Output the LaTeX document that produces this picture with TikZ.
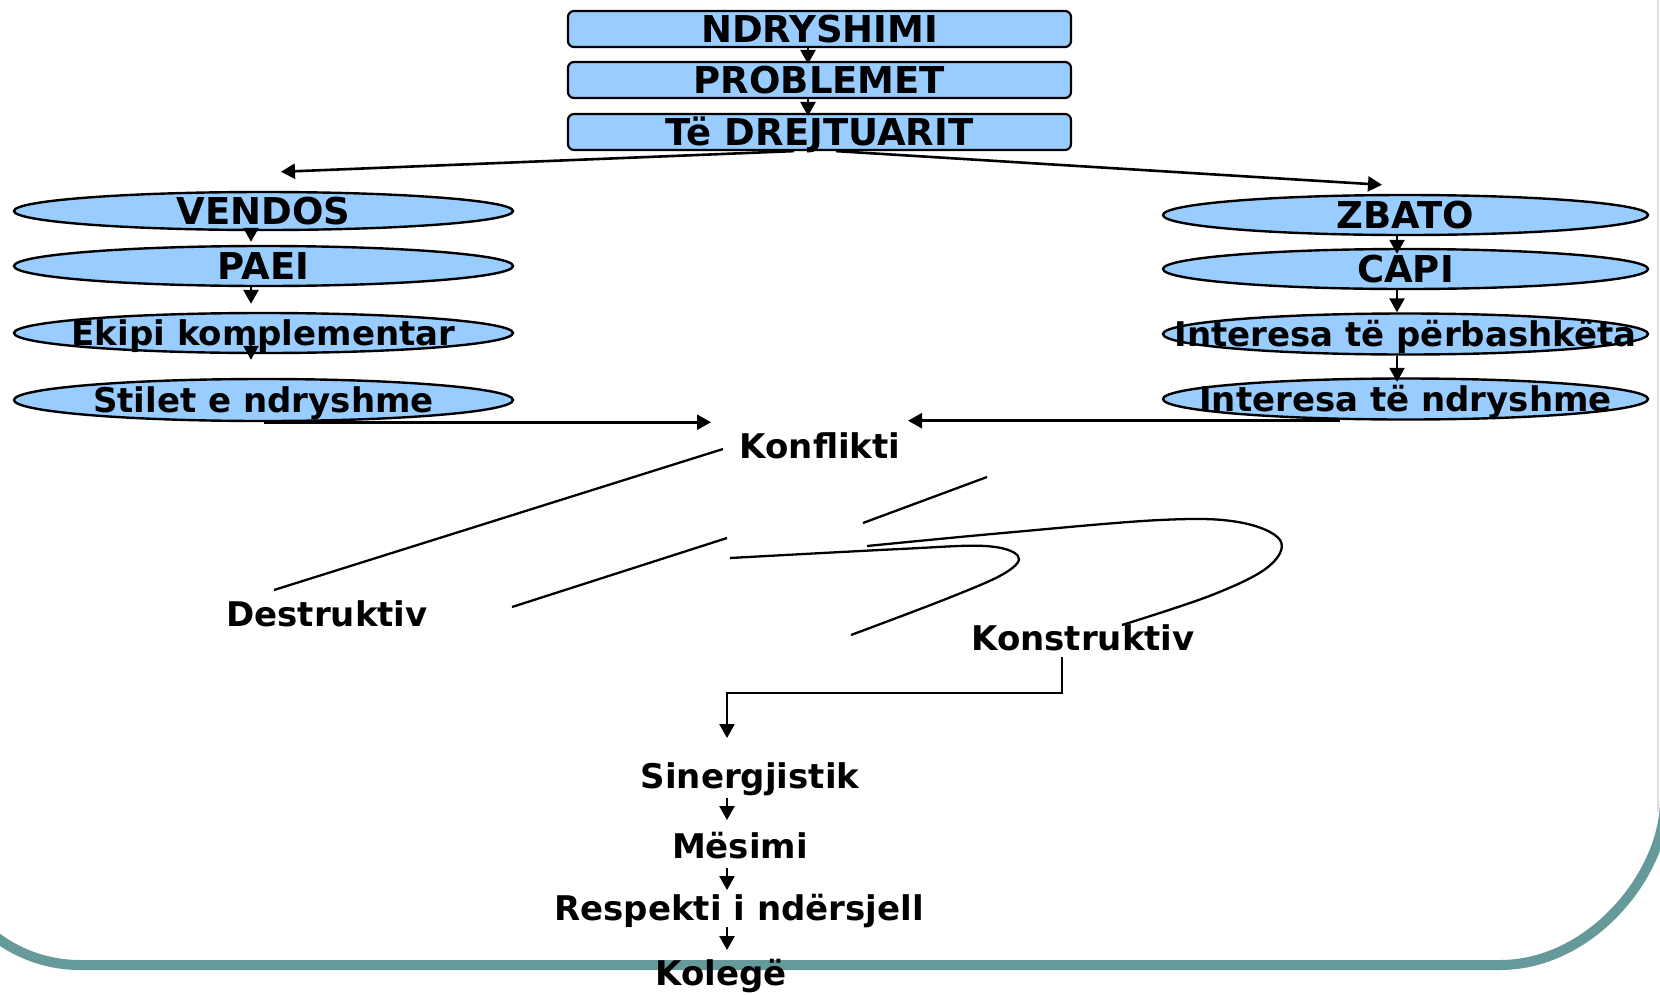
\documentclass[tikz,border=0pt]{standalone}
\usepackage{fontspec}
\setmainfont{DejaVu Sans}
\usetikzlibrary{shapes.geometric,arrows.meta,calc}

\definecolor{boxblue}{RGB}{153,204,255}
\definecolor{frameteal}{RGB}{102,153,153}
\definecolor{edgegray}{RGB}{225,225,225}

\begin{document}
\begin{tikzpicture}[x=1pt,y=-1pt,
  wire/.style={line width=2.6pt, draw=black},
  arr/.style={wire, -{Triangle[width=15pt,length=14pt]}},
  capfont/.style={font=\fontsize{37}{40}\selectfont\bfseries},
  txtfont/.style={font=\fontsize{34}{40}\selectfont\bfseries},
  caplbl/.style={capfont, inner sep=0pt, text height=27pt, text depth=0pt},
  txtlbl/.style={txtfont, inner sep=0pt, text height=25pt, text depth=0pt},
  bar/.style={draw, line width=2.2pt, fill=boxblue, rounded corners=6pt,
    minimum width=503pt, minimum height=36pt, inner sep=0pt},
  oval/.style={ellipse, draw, line width=2.4pt, fill=boxblue, inner sep=0pt},
  word/.style={txtfont, inner sep=0pt, anchor=base},
  stroke/.style={wire, line width=2.3pt},
]
\useasboundingbox (0,0) rectangle (1660,994);

% slide frame: bottom edge with rounded corners, faint right edge
\draw[edgegray, line width=1.5pt] (1658,0) -- (1658,812);
\draw[frameteal, line width=10pt] (-60,825) .. controls (-60,902.3) and (2.7,965) .. (80,965)
  -- (1500,965) .. controls (1591.1,965) and (1665,873.9) .. (1665,800);

% top chain of boxes
\node[bar, label={[caplbl]center:NDRYSHIMI}] (ndr) at (819.5,29) {};
\node[bar, label={[caplbl]center:PROBLEMET}] (prob) at (819.5,80) {};
\node[bar, label={[caplbl]center:Të DREJTUARIT}] (dre) at (819.5,132) {};

\draw[arr] ([xshift=-11.5pt]ndr.south) -- ([xshift=-11.5pt,yshift=-3pt]prob.north);
\draw[arr] ([xshift=-11.5pt]prob.south) -- ([xshift=-11.5pt,yshift=-3pt]dre.north);

% left column
\node[oval, minimum width=499pt, minimum height=38pt, label={[caplbl]center:VENDOS}] (vendos) at (263.5,211) {};
\node[oval, minimum width=499pt, minimum height=40pt, label={[caplbl]center:PAEI}] (paei) at (263.5,266) {};
\node[oval, minimum width=499pt, minimum height=40pt, label={[txtlbl]center:Ekipi komplementar}] (ekipi) at (263.5,333) {};
\node[oval, minimum width=499pt, minimum height=42pt, label={[txtlbl]center:Stilet e ndryshme}] (stilet) at (263.5,400) {};

\draw[arr] ([xshift=-12.5pt]vendos.south) -- ([xshift=-12.5pt,yshift=3pt]paei.north);
\draw[arr] ([xshift=-12.5pt]paei.south) -- ([xshift=-12.5pt,yshift=8pt]ekipi.north);
\draw[arr] ([xshift=-12.5pt,yshift=13pt]ekipi.south) -- ([xshift=-12.5pt,yshift=18pt]stilet.north);

% right column
\node[oval, minimum width=485pt, minimum height=40pt, label={[caplbl]center:ZBATO}] (zbato) at (1405.5,215) {};
\node[oval, minimum width=485pt, minimum height=40pt, label={[caplbl]center:CAPI}] (capi) at (1405.5,269) {};
\node[oval, minimum width=485pt, minimum height=41pt, label={[txtlbl]center:Interesa të përbashkëta}] (ipb) at (1405.5,334) {};
\node[oval, minimum width=485pt, minimum height=41pt, label={[txtlbl]center:Interesa të ndryshme}] (ind) at (1405.5,399) {};

\draw[arr] ([xshift=-8.5pt]zbato.south) -- ([xshift=-8.5pt,yshift=-6pt]capi.north);
\draw[arr] ([xshift=-8.5pt]capi.south) -- ([xshift=-8.5pt]ipb.north);
\draw[arr] ([xshift=-8.5pt]ipb.south) -- ([xshift=-8.5pt,yshift=-4.5pt]ind.north);

% split from the leaders
\draw[arr] ([xshift=-25.5pt]dre.south) -- ([xshift=17.5pt,yshift=19pt]vendos.north);
\draw[arr] ([xshift=16.5pt]dre.south) -- ([xshift=-23.5pt,yshift=9pt]zbato.north);

% conflict and its outcomes
\node[word] (konf) at (820,458) {Konflikti};
\node[word] (destr) at (327,626) {Destruktiv};
\node[word] (konstr) at (1083,650) {Konstruktiv};
\node[word] (siner) at (750,788) {Sinergjistik};
\node[word] (mes) at (740,858) {Mësimi};
\node[word] (resp) at (739,920) {Respekti i ndërsjell};
\node[word] (koleg) at (721,985) {Kolegë};

\coordinate (kinl) at (711,421);
\coordinate (kinr) at (908,421);
\draw[arr] (stilet.south) -- (kinl |- stilet.south);
\draw[arr] ([xshift=-65.5pt]ind.south) -- (kinr |- ind.south);

% strokes between the conflict and its outcomes
\coordinate (ka) at (723,449);
\coordinate (da) at (274,590);
\draw[stroke] (ka) -- (da);
\coordinate (sb1) at (987,477);
\coordinate (sb2) at (863,523);
\draw[stroke] (sb1) -- (sb2);
\coordinate (sc1) at (727,538);
\coordinate (sc2) at (512,607);
\draw[stroke] (sc1) -- (sc2);
\draw[stroke] plot[smooth, tension=0.6] coordinates
  {(730,558) (900,549) (985,546) (1018,556) (1005,573) (951,597) (851,635)};
\draw[stroke] plot[smooth, tension=0.6] coordinates
  {(867,546) (1003,533) (1160,520) (1238,522) (1280,540) (1268,567) (1212,595) (1122,625)};

% constructive path
\draw[arr] ([xshift=-21pt,yshift=-7pt]konstr.base) -- ++(0,36) -| ([xshift=-23pt,yshift=50pt]siner.base);
\draw[arr] ([xshift=-23pt,yshift=-10pt]siner.base) -- ([xshift=-13pt,yshift=38pt]mes.base);
\draw[arr] ([xshift=-13pt,yshift=-10pt]mes.base) -- ([xshift=-12pt,yshift=30pt]resp.base);
\draw[arr] ([xshift=-12pt,yshift=-7pt]resp.base) -- ([xshift=6pt,yshift=35pt]koleg.base);
\end{tikzpicture}
\end{document}
